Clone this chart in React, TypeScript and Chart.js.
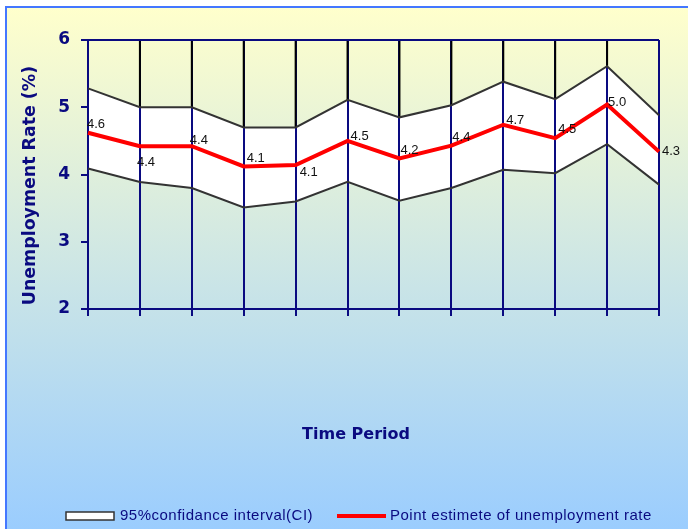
import React, { useEffect, useRef } from "react";
import { Chart, registerables } from "chart.js";

Chart.register(...registerables);

const periods = ["1", "2", "3", "4", "5", "6", "7", "8", "9", "10", "11", "12"];
const upperCI = [5.28, 5.0, 5.0, 4.7, 4.7, 5.11, 4.85, 5.03, 5.38, 5.12, 5.61, 4.88];
const lowerCI = [4.09, 3.89, 3.8, 3.51, 3.6, 3.89, 3.61, 3.8, 4.07, 4.02, 4.45, 3.85];
const pointEstimate = [4.62, 4.42, 4.42, 4.12, 4.14, 4.5, 4.24, 4.43, 4.74, 4.54, 5.04, 4.34];
const yTicks = [2, 3, 4, 5, 6];

const yTitle = "Unemployment Rate (%)";
const xTitle = "Time Period";
const legendCI = "95%confidance interval(CI)";
const legendPoint = "Point estimete of unemployment rate";

const NAVY = "#0a0a80";

export default function App() {
  const ref = useRef<HTMLCanvasElement | null>(null);

  useEffect(() => {
    document.body.style.margin = "0";
    const canvas = ref.current;
    if (!canvas) return;

    const labelDx = [-1, -3, -2, 3, 4, 3, 1, 1, 3, 3, 1, 3];
    const labelDy = [-8, 16, -5.5, -8, 7, -4, -8, -8, -4, -9, -2, 0];

    const decor = {
      id: "decor",
      beforeDatasetsDraw(chart: any) {
        const { ctx, chartArea } = chart;
        const xs = chart.scales.x;
        const ys = chart.scales.y;
        ctx.save();
        ctx.strokeStyle = "#000000";
        ctx.lineWidth = 2;
        for (let i = 1; i < periods.length - 1; i++) {
          const x = xs.getPixelForValue(i);
          ctx.beginPath();
          ctx.moveTo(x, chartArea.top);
          ctx.lineTo(x, ys.getPixelForValue(upperCI[i]));
          ctx.stroke();
        }
        ctx.strokeStyle = NAVY;
        ctx.beginPath();
        ctx.moveTo(chartArea.left, chartArea.top);
        ctx.lineTo(chartArea.right, chartArea.top);
        ctx.stroke();
        ctx.restore();
      },
      afterDatasetsDraw(chart: any) {
        const { ctx } = chart;
        const meta = chart.getDatasetMeta(2);
        ctx.save();
        ctx.font = "13px 'Liberation Sans', Arial, sans-serif";
        ctx.fillStyle = "#111111";
        ctx.textAlign = "left";
        ctx.textBaseline = "middle";
        meta.data.forEach((pt: any, i: number) => {
          ctx.fillText(pointEstimate[i].toFixed(1), pt.x + labelDx[i], pt.y + labelDy[i]);
        });
        ctx.restore();
      },
      afterDraw(chart: any) {
        const { ctx, chartArea } = chart;
        ctx.save();
        ctx.fillStyle = NAVY;
        ctx.font = "bold 17.4px 'DejaVu Sans', sans-serif";
        ctx.textAlign = "center";
        ctx.textBaseline = "middle";
        ctx.translate(30, (chartArea.top + chartArea.bottom) / 2 + 11);
        ctx.rotate(-Math.PI / 2);
        ctx.fillText(yTitle, 0, 0);
        ctx.restore();

        ctx.save();
        ctx.fillStyle = NAVY;
        ctx.font = "bold 16px 'DejaVu Sans', sans-serif";
        ctx.textAlign = "center";
        ctx.textBaseline = "middle";
        ctx.fillText(xTitle, 356, 435);

        const ly = 516;
        ctx.fillStyle = "#ffffff";
        ctx.fillRect(66, ly - 4, 48, 8);
        ctx.strokeStyle = "#333333";
        ctx.lineWidth = 1.5;
        ctx.strokeRect(66, ly - 4, 48, 8);
        ctx.strokeStyle = "#ff0000";
        ctx.lineWidth = 4;
        ctx.beginPath();
        ctx.moveTo(337, ly);
        ctx.lineTo(386, ly);
        ctx.stroke();
        ctx.fillStyle = NAVY;
        ctx.font = "15px 'Liberation Sans', Arial, sans-serif";
        (ctx as any).letterSpacing = "0.5px";
        ctx.textAlign = "left";
        ctx.fillText(legendCI, 120, ly);
        ctx.fillText(legendPoint, 390, ly);
        ctx.restore();
      },
    };

    const chart = new Chart(canvas, {
      type: "line",
      data: {
        labels: periods,
        datasets: [
          {
            label: "Upper CI",
            data: upperCI,
            borderColor: "#333333",
            borderWidth: 2,
            backgroundColor: "#ffffff",
            fill: "+1",
            pointRadius: 0,
            tension: 0,
          },
          {
            label: "Lower CI",
            data: lowerCI,
            borderColor: "#333333",
            borderWidth: 2,
            fill: false,
            pointRadius: 0,
            tension: 0,
          },
          {
            label: "Point estimate",
            data: pointEstimate,
            borderColor: "#ff0000",
            borderWidth: 4,
            fill: false,
            pointRadius: 0,
            tension: 0,
          },
        ],
      },
      options: {
        responsive: false,
        animation: false,
        events: [],
        layout: { padding: { left: 8, top: 40, right: 29, bottom: 210 } },
        plugins: {
          legend: { display: false },
          title: { display: false },
          tooltip: { enabled: false },
          filler: { drawTime: "beforeDraw" },
        } as any,
        scales: {
          x: {
            type: "category",
            offset: false,
            afterFit: (s: any) => {
              s.height = 10;
            },
            grid: {
              display: true,
              drawOnChartArea: true,
              drawTicks: true,
              tickLength: 7,
              color: NAVY,
              lineWidth: 2,
            },
            border: { display: true, color: NAVY, width: 2 },
            ticks: { display: false },
          },
          y: {
            min: 2,
            max: 6,
            afterFit: (s: any) => {
              s.width = 80;
            },
            afterBuildTicks: (s: any) => {
              s.ticks = yTicks.map((v) => ({ value: v }));
            },
            grid: {
              display: true,
              drawOnChartArea: false,
              drawTicks: true,
              tickLength: 7,
              color: NAVY,
              lineWidth: 2,
            },
            border: { display: true, color: NAVY, width: 2 },
            ticks: {
              color: NAVY,
              padding: 11,
              font: { family: "'DejaVu Sans', sans-serif", size: 17, weight: "bold" },
            },
          },
        },
      },
      plugins: [decor],
    });

    return () => chart.destroy();
  }, []);

  return (
    <div style={{ position: "relative", width: 688, height: 529, background: "#ffffff", overflow: "hidden" }}>
      <div
        style={{
          position: "absolute",
          left: 5,
          top: 6,
          width: 690,
          height: 530,
          borderLeft: "2px solid #4477ff",
          borderTop: "2px solid #4477ff",
          background: "linear-gradient(to bottom, #ffffcc 0%, #99ccff 100%)",
        }}
      />
      <canvas ref={ref} width={688} height={529} style={{ position: "absolute", left: 0, top: 0, display: "block" }} />
    </div>
  );
}
